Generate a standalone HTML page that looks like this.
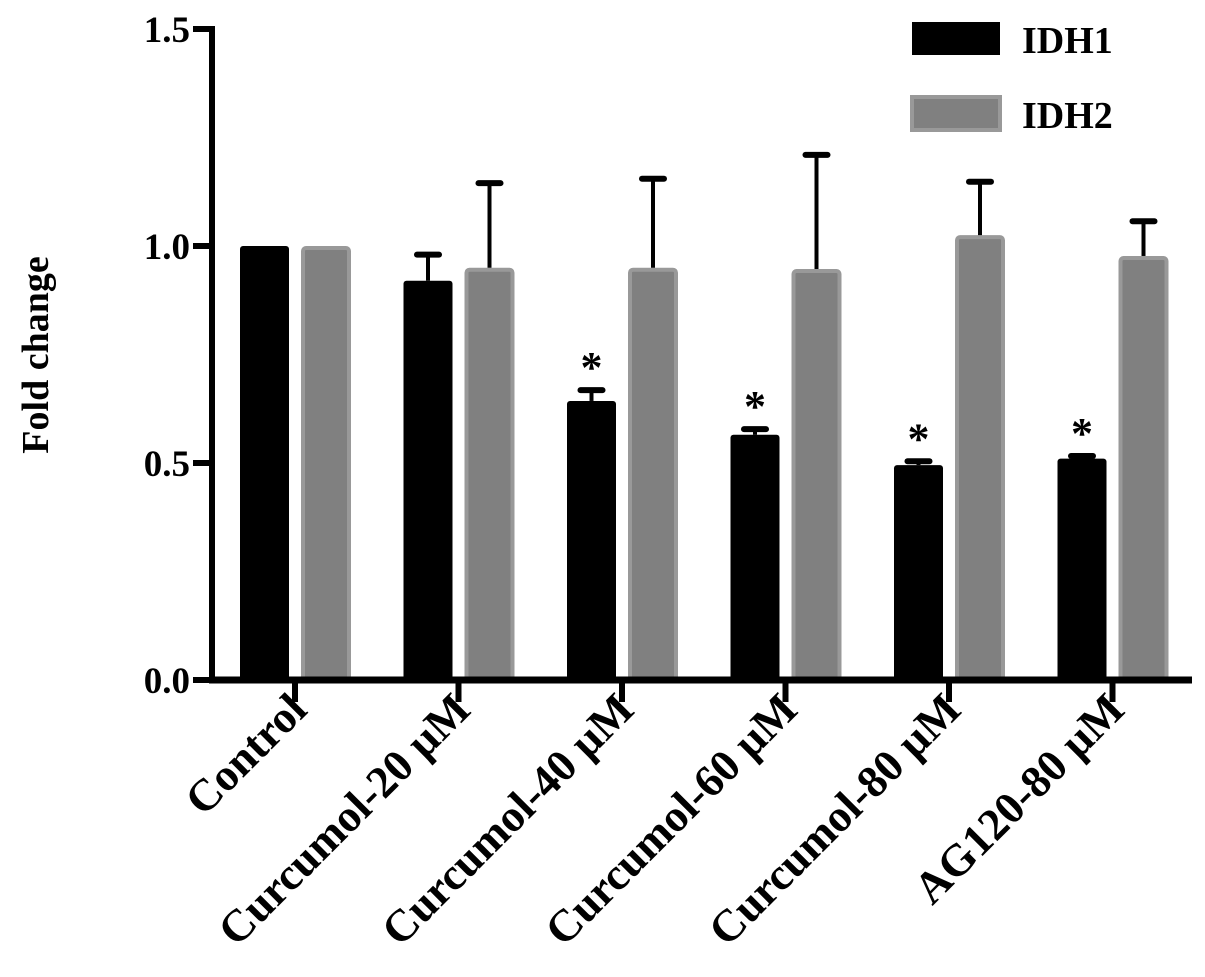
<!DOCTYPE html>
<html><head><meta charset="utf-8"><style>
body{margin:0;background:#fff}
svg text{font-family:"Liberation Serif",serif;font-weight:bold;fill:#000}
</style></head><body>
<svg id="chart" width="1205" height="972" viewBox="0 0 1205 972" xmlns="http://www.w3.org/2000/svg">
<g id="bars"></g>
<g id="axes"></g>
<text transform="translate(48,355) rotate(-90)" text-anchor="middle" font-size="38">Fold change</text>
<g>
<rect x="912" y="22" width="88" height="33" fill="#000"/>
<text x="1022" y="53" font-size="38">IDH1</text>
<rect x="912" y="97" width="88" height="33" fill="#808080" stroke="#999" stroke-width="4"/>
<text x="1022" y="128" font-size="38">IDH2</text>
</g>
</svg>
<script>
const categories=["Control","Curcumol-20 \u00b5M","Curcumol-40 \u00b5M","Curcumol-60 \u00b5M","Curcumol-80 \u00b5M","AG120-80 \u00b5M"];
const idh1=[1.0,0.92,0.643,0.565,0.495,0.51];
const idh1Err=[0,0.06,0.025,0.013,0.009,0.006];
const idh2=[1.0,0.95,0.95,0.947,1.025,0.977];
const idh2Err=[0,0.195,0.205,0.263,0.123,0.08];
const sig=[false,false,true,true,true,true];
const yTicks=[0,0.5,1.0,1.5];
const yTickLabels=["0.0","0.5","1.0","1.5"];
const NS="http://www.w3.org/2000/svg";
const y=v=>680-v*434;
const xc=i=>295+i*163.5;
function mk(tag,attrs,parent){const e=document.createElementNS(NS,tag);for(const k in attrs)e.setAttribute(k,attrs[k]);parent.appendChild(e);return e;}
const bars=document.getElementById('bars'),axes=document.getElementById('axes');
categories.forEach((c,i)=>{
  const x1=xc(i)-55,x2=xc(i)+6;
  const b1=mk('rect',{x:x1,y:y(idh1[i]),width:49,height:680-y(idh1[i]),fill:'#000',rx:3},bars);
  
  
  const b2=mk('rect',{x:x2+2,y:y(idh2[i])+2,width:46,height:678-y(idh2[i]),fill:'#808080',stroke:'#999',"stroke-width":4,rx:3},bars);
  
  
  [[x1+24.5,idh1[i],idh1Err[i]],[x2+25,idh2[i],idh2Err[i]]].forEach(([cx,v,e],k)=>{
    if(e<=0)return;
    const g=mk('g',{},bars);
    
    
    mk('line',{x1:cx,x2:cx,y1:y(v),y2:y(v+e),stroke:'#000',"stroke-width":4},g);
    mk('line',{x1:cx-11,x2:cx+11,y1:y(v+e),y2:y(v+e),stroke:'#000',"stroke-width":6,"stroke-linecap":"round"},g);
  });
  if(sig[i]){const t=mk('text',{x:x1+24.5,y:y(idh1[i]+idh1Err[i])-8,"text-anchor":"middle","font-size":44,"font-weight":"normal"},bars);t.textContent='*';
    
    }
  mk('line',{x1:xc(i),x2:xc(i),y1:680,y2:702,stroke:'#000',"stroke-width":6},axes);
  const l=mk('text',{transform:`translate(${xc(i)+14},712) rotate(-45)`,"text-anchor":"end","font-size":45},axes);l.textContent=c;
  
  
});
mk('line',{x1:212,x2:212,y1:26,y2:683,stroke:'#000',"stroke-width":6},axes);
mk('line',{x1:209,x2:1192,y1:680,y2:680,stroke:'#000',"stroke-width":7},axes);
yTicks.forEach((v,i)=>{
  mk('line',{x1:193,x2:212,y1:y(v),y2:y(v),stroke:'#000',"stroke-width":6},axes);
  const t=mk('text',{x:190,y:y(v)+13,"text-anchor":"end","font-size":37},axes);t.textContent=yTickLabels[i];
  
  
});
</script>
</body></html>
